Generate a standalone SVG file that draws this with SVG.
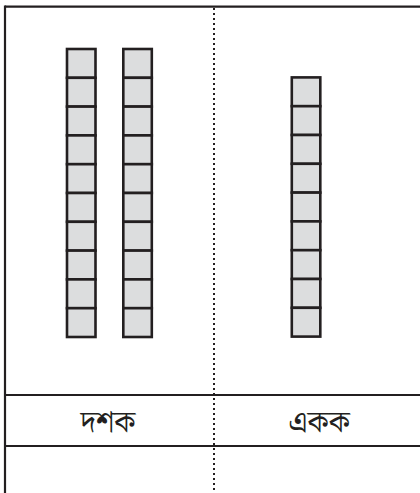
<svg xmlns="http://www.w3.org/2000/svg" width="420" height="493" viewBox="0 0 420 493">
<defs>
<style>
.frame{stroke:#231f20;stroke-width:2.2;fill:none}
.dot{stroke:#231f20;stroke-width:2;stroke-dasharray:2 3;fill:none}
.cell{fill:#dcddde;stroke:#231f20;stroke-width:2.6}
.lbl{font-family:"Noto Serif Bengali","Noto Sans Bengali","Noto Sans",sans-serif;font-size:30px;font-weight:400;fill:#231f20;text-anchor:middle}
</style>
</defs>
<rect width="420" height="493" fill="#ffffff"/>
<g id="frame">
<line class="frame" x1="5" y1="6.7" x2="420" y2="6.7"/>
<line class="frame" x1="5" y1="5.6" x2="5" y2="493"/>
<line class="frame" x1="5" y1="395" x2="420" y2="395"/>
<line class="frame" x1="5" y1="446" x2="420" y2="446"/>
<line class="dot" x1="214" y1="8" x2="214" y2="493"/>
</g>
<g id="tens1">
<rect class="cell" x="67" y="49" width="28.5" height="28.8"/>
<rect class="cell" x="67" y="77.8" width="28.5" height="28.8"/>
<rect class="cell" x="67" y="106.6" width="28.5" height="28.8"/>
<rect class="cell" x="67" y="135.4" width="28.5" height="28.8"/>
<rect class="cell" x="67" y="164.2" width="28.5" height="28.8"/>
<rect class="cell" x="67" y="193" width="28.5" height="28.8"/>
<rect class="cell" x="67" y="221.8" width="28.5" height="28.8"/>
<rect class="cell" x="67" y="250.6" width="28.5" height="28.8"/>
<rect class="cell" x="67" y="279.4" width="28.5" height="28.8"/>
<rect class="cell" x="67" y="308.2" width="28.5" height="28.8"/>
</g>
<g id="tens2">
<rect class="cell" x="123.3" y="49" width="28.5" height="28.8"/>
<rect class="cell" x="123.3" y="77.8" width="28.5" height="28.8"/>
<rect class="cell" x="123.3" y="106.6" width="28.5" height="28.8"/>
<rect class="cell" x="123.3" y="135.4" width="28.5" height="28.8"/>
<rect class="cell" x="123.3" y="164.2" width="28.5" height="28.8"/>
<rect class="cell" x="123.3" y="193" width="28.5" height="28.8"/>
<rect class="cell" x="123.3" y="221.8" width="28.5" height="28.8"/>
<rect class="cell" x="123.3" y="250.6" width="28.5" height="28.8"/>
<rect class="cell" x="123.3" y="279.4" width="28.5" height="28.8"/>
<rect class="cell" x="123.3" y="308.2" width="28.5" height="28.8"/>
</g>
<g id="ones">
<rect class="cell" x="291.8" y="77.4" width="28.5" height="28.8"/>
<rect class="cell" x="291.8" y="106.2" width="28.5" height="28.8"/>
<rect class="cell" x="291.8" y="135" width="28.5" height="28.8"/>
<rect class="cell" x="291.8" y="163.8" width="28.5" height="28.8"/>
<rect class="cell" x="291.8" y="192.6" width="28.5" height="28.8"/>
<rect class="cell" x="291.8" y="221.4" width="28.5" height="28.8"/>
<rect class="cell" x="291.8" y="250.2" width="28.5" height="28.8"/>
<rect class="cell" x="291.8" y="279" width="28.5" height="28.8"/>
<rect class="cell" x="291.8" y="307.8" width="28.5" height="28.8"/>
</g>
<g id="label-tens"><text class="lbl" x="108" y="432">দশক</text></g>
<g id="label-ones"><text class="lbl" x="319" y="432">একক</text></g>
</svg>
